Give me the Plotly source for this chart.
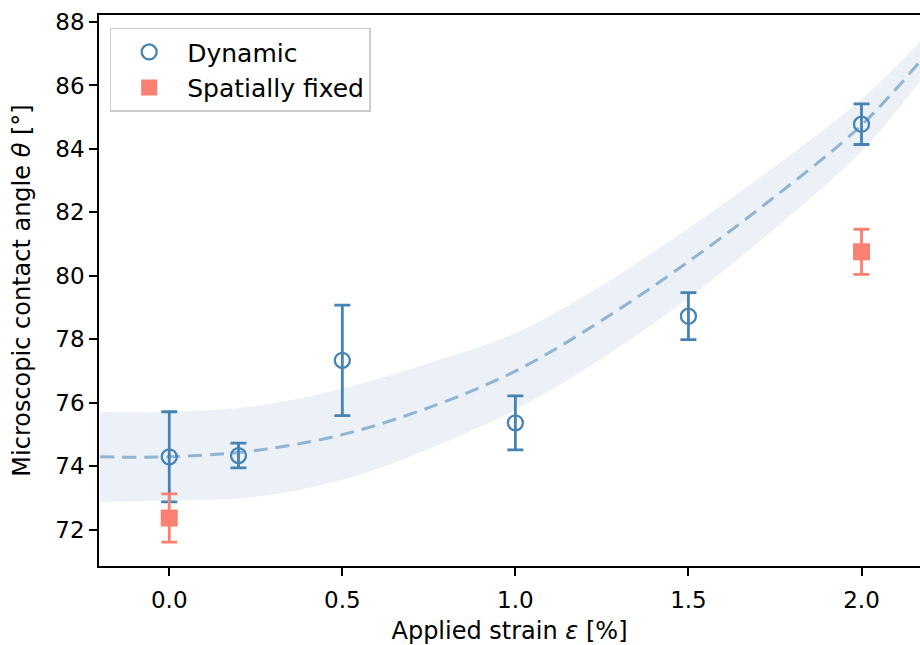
import plotly.graph_objects as go

# Measured data
dyn_x = [0.0, 0.2, 0.5, 1.0, 1.5, 2.0]
dyn_y = [74.30, 74.34, 77.34, 75.37, 78.73, 84.78]
dyn_err = [1.42, 0.39, 1.74, 0.85, 0.74, 0.64]

fix_x = [0.0, 2.0]
fix_y = [72.37, 80.76]
fix_err = [0.76, 0.71]

# Fit curve and confidence band
fit_x = [-0.2, 0.0, 0.25, 0.5, 0.75, 1.0, 1.25, 1.5, 1.75, 2.0, 2.17]
fit_y = [74.30, 74.30, 74.50, 75.00, 75.85, 77.00, 78.60, 80.45, 82.50, 84.75, 86.77]
band_hi = [75.72, 75.72, 75.90, 76.45, 77.25, 78.20, 79.70, 81.50, 83.45, 85.57, 87.40]
band_lo = [72.88, 72.92, 73.04, 73.58, 74.55, 75.79, 77.40, 79.30, 81.50, 83.93, 86.15]

x_ticks = [0.0, 0.5, 1.0, 1.5, 2.0]
x_tick_text = ["0.0", "0.5", "1.0", "1.5", "2.0"]
y_ticks = [72, 74, 76, 78, 80, 82, 84, 86, 88]

STEEL = "#4682b4"
SALMON = "#fa8072"

fig = go.Figure()

fig.add_trace(go.Scatter(x=fit_x, y=band_lo, mode="lines", line=dict(width=0, shape="spline", smoothing=1),
                         showlegend=False, hoverinfo="skip"))
fig.add_trace(go.Scatter(x=fit_x, y=band_hi, mode="lines", line=dict(width=0, shape="spline", smoothing=1),
                         fill="tonexty", fillcolor="rgba(70,130,180,0.11)",
                         showlegend=False, hoverinfo="skip"))
fig.add_trace(go.Scatter(x=fit_x, y=fit_y, mode="lines",
                         line=dict(color="rgba(70,130,180,0.55)", width=3, dash="14px,8px", shape="spline", smoothing=1),
                         showlegend=False, hoverinfo="skip"))

fig.add_trace(go.Scatter(x=dyn_x, y=dyn_y, mode="markers", name="Dynamic",
                         marker=dict(symbol="circle-open", size=15, color=STEEL, line=dict(width=2.3, color=STEEL)),
                         error_y=dict(type="data", array=dyn_err, visible=True, color=STEEL, thickness=2.8, width=8)))
fig.add_trace(go.Scatter(x=fix_x, y=fix_y, mode="markers", name="Spatially fixed",
                         marker=dict(symbol="square", size=17, color=SALMON),
                         error_y=dict(type="data", array=fix_err, visible=True, color=SALMON, thickness=2.8, width=8)))

font = "DejaVu Sans, sans-serif"
fig.update_layout(
    width=920, height=645,
    margin=dict(l=99, r=0, t=15, b=79),
    plot_bgcolor="white", paper_bgcolor="white",
    font=dict(family=font, size=23, color="black"),
    legend=dict(x=0.013, y=0.977, xanchor="left", yanchor="top", traceorder="normal",
                bordercolor="#cccccc", borderwidth=1.5, bgcolor="rgba(255,255,255,0.8)",
                font=dict(size=25), itemwidth=66, tracegroupgap=0),
    xaxis=dict(range=[-0.203, 2.169], tickvals=x_ticks, ticktext=x_tick_text,
               showgrid=False, zeroline=False, showline=True, linecolor="black", linewidth=1.5,
               mirror=True, ticks="outside", ticklen=8, tickwidth=1.5, tickcolor="black",
               tickfont=dict(size=23), ticklabelstandoff=5,
               title=dict(text="Applied strain <i>ε</i> [%]", font=dict(size=24), standoff=13)),
    yaxis=dict(range=[70.86, 88.22], tickvals=y_ticks,
               showgrid=False, zeroline=False, showline=True, linecolor="black", linewidth=1.5,
               ticks="outside", ticklen=8, tickwidth=1.5, tickcolor="black",
               tickfont=dict(size=23),
               title=dict(text="Microscopic contact angle <i>θ</i> [°]", font=dict(size=24), standoff=18)),
)

fig.write_html("out.html")
